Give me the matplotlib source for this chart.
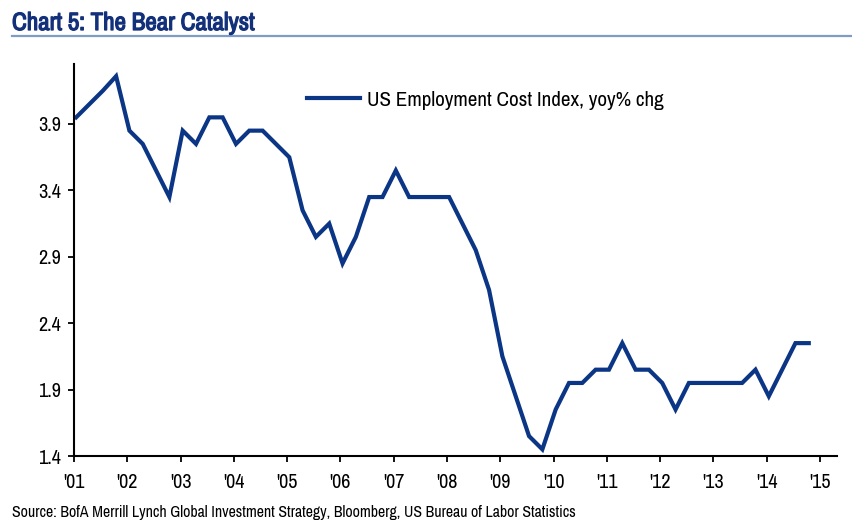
import matplotlib
matplotlib.use("Agg")
import matplotlib.pyplot as plt
import matplotlib.patheffects as pe
from matplotlib import font_manager
import numpy as np

# look for a condensed/narrow face, otherwise fall back to Liberation Sans
narrow_family, narrow_stretch, narrow_found = "Liberation Sans", "normal", False
for f in font_manager.fontManager.ttflist:
    if "Narrow" in f.name:
        narrow_family, narrow_stretch, narrow_found = f.name, "normal", True
        break
if not narrow_found:
    for f in font_manager.fontManager.ttflist:
        if "ondensed" in f.fname and "Sans" in f.name:
            narrow_family, narrow_stretch, narrow_found = f.name, "condensed", True
            break

title = "Chart 5: The Bear Catalyst"
series_label = "US Employment Cost Index, yoy% chg"
source = "Source: BofA Merrill Lynch Global Investment Strategy, Bloomberg, US Bureau of Labor Statistics"

start_year = 2001.04
values = [
    3.95, 4.05, 4.15, 4.26,
    3.85, 3.75, 3.55, 3.35,
    3.85, 3.75, 3.95, 3.95,
    3.75, 3.85, 3.85, 3.75,
    3.65, 3.25, 3.05, 3.15,
    2.85, 3.05, 3.35, 3.35,
    3.55, 3.35, 3.35, 3.35,
    3.35, 3.15, 2.95, 2.65,
    2.15, 1.85, 1.55, 1.45,
    1.75, 1.95, 1.95, 2.05,
    2.05, 2.25, 2.05, 2.05,
    1.95, 1.75, 1.95, 1.95,
    1.95, 1.95, 1.95, 2.05,
    1.85, 2.05, 2.25, 2.25,
]
x_ticks = list(range(2001, 2016))
x_labels = ["'%02d" % (y % 100) for y in x_ticks]
y_ticks = [1.4, 1.9, 2.4, 2.9, 3.4, 3.9]

if narrow_found:
    title_size, leg_size, src_size, tick_size = 18, 15.2, 11.4, 14.5
else:
    title_size, leg_size, src_size, tick_size = 14.3, 12.4, 9.4, 12.5

W, H = 853, 529
fig = plt.figure(figsize=(W / 100, H / 100), dpi=100)
ax = fig.add_axes([74 / W, 1 - 456 / H, (837 - 74) / W, (456 - 64) / H])

x = start_year + 0.25 * np.arange(len(values))
navy = "#0B3585"
ax.plot(x, values, color=navy, lw=3.0, solid_joinstyle="miter", label=series_label)

ax.set_xlim(2001, 2015.32)
ax.set_ylim(1.4, 1.4 + (456 - 64) / 132.8)
ax.set_xticks(x_ticks)
ax.set_xticklabels(x_labels)
ax.set_yticks(y_ticks)
ax.set_yticklabels(["%.1f" % v for v in y_ticks])
for s in ["top", "right"]:
    ax.spines[s].set_visible(False)
for s in ["left", "bottom"]:
    ax.spines[s].set_linewidth(1.5)
    ax.spines[s].set_color("black")
ax.tick_params(axis="both", direction="out", length=4.5, width=1.3, colors="black",
               labelsize=tick_size)
ax.tick_params(axis="x", pad=8)
ax.tick_params(axis="y", pad=5)
for lab in ax.get_xticklabels() + ax.get_yticklabels():
    lab.set_fontfamily(narrow_family)
    lab.set_fontstretch(narrow_stretch)

leg = ax.legend(loc="center left", bbox_to_anchor=(307 / W, 1 - 100 / H),
                bbox_transform=fig.transFigure, frameon=False, borderpad=0,
                borderaxespad=0, handlelength=2.5, handletextpad=0.33,
                prop={"family": narrow_family, "stretch": narrow_stretch,
                      "size": leg_size})

title_color = "#13307A"
fig.text(12 / W, 1 - 30 / H, title, fontsize=title_size, fontweight="bold",
         color=title_color, family=narrow_family, fontstretch=narrow_stretch,
         ha="left", va="baseline",
         path_effects=[pe.withStroke(linewidth=0.9, foreground=title_color)])
fig.add_artist(plt.Line2D([12 / W, 1.0], [1 - 36 / H, 1 - 36 / H],
                          transform=fig.transFigure, color="#7E9CC6", lw=1.6))
fig.text(12 / W, 1 - 516.5 / H, source, fontsize=src_size, color="black",
         family=narrow_family, fontstretch=narrow_stretch,
         ha="left", va="baseline")

fig.savefig("out.png", dpi=100)
